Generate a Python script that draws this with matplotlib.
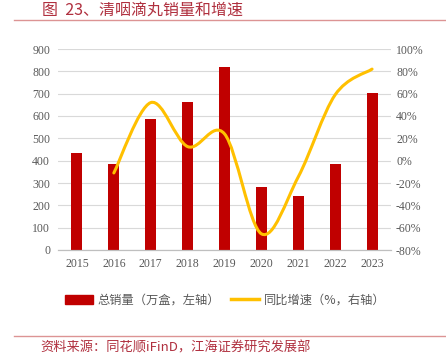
import matplotlib.pyplot as plt
from matplotlib.path import Path
from matplotlib.patches import PathPatch, Patch
from matplotlib.lines import Line2D
from matplotlib.ticker import FuncFormatter

plt.rcParams['font.family'] = ['Noto Sans CJK SC', 'DejaVu Sans']

years = ['2015', '2016', '2017', '2018', '2019', '2020', '2021', '2022', '2023']
sales = [434, 385, 588, 662, 821, 283, 242, 385, 702]
growth = [None, -11, 52, 12.6, 24, -65.5, -14.5, 59, 82]

bar_color = '#C00000'
line_color = '#FFC000'
tick_color = '#595959'
title_color = '#B0303F'
serif = ['Liberation Serif', 'DejaVu Serif']

fig = plt.figure(figsize=(4.46, 3.56), dpi=100)
ax = fig.add_axes([58.5 / 446, 1 - 250 / 356, 332 / 446, 201 / 356])
ax2 = ax.twinx()

x = list(range(len(years)))
ax.bar(x, sales, width=0.3, color=bar_color, zorder=2)
ax.set_xlim(-0.5, len(years) - 0.5)
ax.set_ylim(0, 900)
ax.set_yticks(range(0, 901, 100))
ax.set_xticks(x)
ax.set_xticklabels(years)
ax.grid(axis='y', color='#D9D9D9', lw=0.8, zorder=0)
ax.set_axisbelow(True)

for a in (ax, ax2):
    for s in ('top', 'left', 'right'):
        a.spines[s].set_visible(False)
    a.spines['bottom'].set_color('#BFBFBF')
    a.tick_params(length=0, colors=tick_color, labelsize=8.5)
    for lab in a.get_xticklabels() + a.get_yticklabels():
        lab.set_family(serif)

ax.tick_params(axis='x', pad=6)
ax.tick_params(axis='y', pad=6)

# smoothed growth line (Catmull-Rom through the data points)
pts = [(i, g) for i, g in enumerate(growth) if g is not None]
verts = [pts[0]]
codes = [Path.MOVETO]
for k in range(len(pts) - 1):
    p0 = pts[k - 1] if k > 0 else pts[k]
    p1 = pts[k]
    p2 = pts[k + 1]
    p3 = pts[k + 2] if k + 2 < len(pts) else pts[k + 1]
    c1 = (p1[0] + (p2[0] - p0[0]) / 6, p1[1] + (p2[1] - p0[1]) / 6)
    c2 = (p2[0] - (p3[0] - p1[0]) / 6, p2[1] - (p3[1] - p1[1]) / 6)
    verts += [c1, c2, p2]
    codes += [Path.CURVE4] * 3
ax2.add_patch(PathPatch(Path(verts, codes), fill=False, edgecolor=line_color,
                        lw=2.2, capstyle='round', zorder=3))
ax2.set_ylim(-80, 100)
ax2.set_yticks(range(-80, 101, 20))
ax2.yaxis.set_major_formatter(FuncFormatter(lambda v, p: f'{int(v)}%'))
for lab in ax2.get_yticklabels():
    lab.set_family(serif)
ax2.tick_params(axis='y', pad=4)

handles = [Patch(color=bar_color), Line2D([], [], color=line_color, lw=2.5)]
fig.legend(handles, ['总销量（万盒，左轴）', '同比增速（%，右轴）'],
           loc='center', bbox_to_anchor=(0.505, 1 - 300 / 356), ncol=2,
           frameon=False, fontsize=8.8, labelcolor=tick_color,
           handlelength=2.3, handleheight=0.7, handletextpad=0.4, columnspacing=0.9)

fig.text(42 / 446, 1 - 10 / 356, '图  23、清咽滴丸销量和增速', color=title_color,
         fontsize=11.5, va='center', ha='left')
fig.add_artist(Line2D([14 / 446, 1], [1 - 19.5 / 356] * 2, color='#DC9494', lw=1))
fig.add_artist(Line2D([14 / 446, 1], [1 - 335.5 / 356] * 2, color='#DC9494', lw=1))
fig.text(40 / 446, 1 - 348 / 356, '资料来源：同花顺iFinD，江海证券研究发展部', color=title_color,
         fontsize=9.5, va='center', ha='left')

fig.savefig('out.png', dpi=100)
